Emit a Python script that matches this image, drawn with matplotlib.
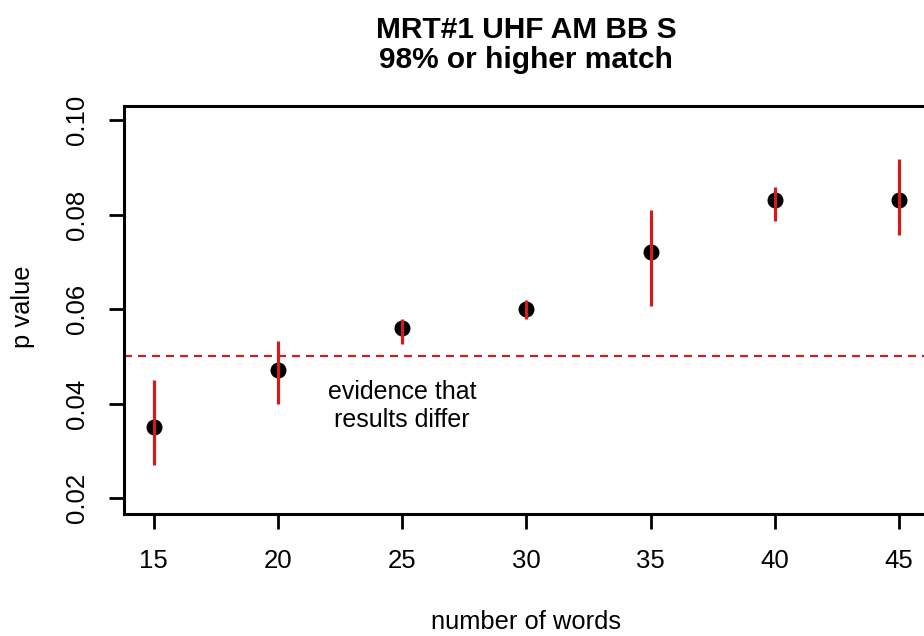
import numpy as np
import matplotlib
matplotlib.use("Agg")
import matplotlib.pyplot as plt

plt.rcParams["font.family"] = ["Liberation Sans", "DejaVu Sans"]

# data
words = [15, 20, 25, 30, 35, 40, 45]
p_mean = [0.035, 0.047, 0.056, 0.060, 0.072, 0.083, 0.083]
p_low = [0.027, 0.040, 0.0526, 0.0578, 0.0607, 0.0787, 0.0757]
p_high = [0.045, 0.0533, 0.058, 0.0619, 0.081, 0.0858, 0.0917]
cutoff = 0.05

W, H = 924, 636
fig = plt.figure(figsize=(W / 100, H / 100), dpi=100)
# plot region runs slightly past the right edge of the picture, as in the reference
ax = fig.add_axes([124 / W, 1 - 514 / H, (929 - 124) / W, (514 - 106) / H])

red = "#d01c1c"
for x, lo, hi in zip(words, p_low, p_high):
    ax.plot([x, x], [lo, hi], color=red, lw=2.3, zorder=3, solid_capstyle="butt")
ax.plot(words, p_mean, "o", color="black", ms=10.5, zorder=2)
ax.axhline(cutoff, color=red, ls=(0, (3.6, 2.7)), lw=1.6, zorder=1)

ax.text(25, 0.0395, "evidence that\nresults differ", ha="center", va="center",
        fontsize=18, linespacing=1.22)

ax.set_xlim(13.8, 46.2)
ax.set_ylim(0.0166, 0.103)
ax.set_xticks(words)
ax.set_yticks([0.02, 0.04, 0.06, 0.08, 0.10])
ax.set_yticklabels(["0.02", "0.04", "0.06", "0.08", "0.10"], rotation=90, va="center")
ax.tick_params(labelsize=18.5, length=10.5, width=2)
ax.tick_params(axis="x", pad=15)
ax.tick_params(axis="y", pad=15)
for s in ax.spines.values():
    s.set_linewidth(2.2)

fig.text(526 / W, 1 - 622 / H, "number of words", fontsize=18.4, ha="center", va="center")
fig.text(23 / W, 1 - 307 / H, "p value", fontsize=18.4, rotation=90, ha="center", va="center")
fig.text(526 / W, 1 - 45 / H, "MRT#1 UHF AM BB S\n98% or higher match", fontsize=21.5,
         fontweight="bold", ha="center", va="center", linespacing=1.12)

fig.savefig("out.png", dpi=100)
